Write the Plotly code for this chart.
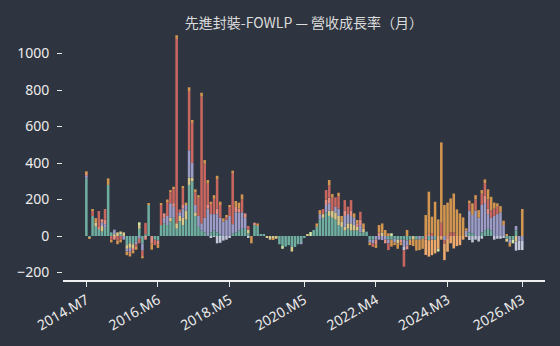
import plotly.graph_objects as go

# month categories 2014.M7 .. 2026.M3
months = []
y, m = 2014, 7
while (y, m) <= (2026, 3):
    months.append(f"{y}.M{m}")
    m += 1
    if m > 12:
        m = 1
        y += 1

tick_labels = ["2014.M7", "2016.M6", "2018.M5", "2020.M5", "2022.M4", "2024.M3", "2026.M3"]

teal = [315,-10,110,55,40,25,45,280,20,0,
        0,15,0,-50,-40,-45,-30,40,-40,10,
        170,0,-20,-25,60,70,60,80,100,40,
        80,60,90,280,300,110,50,30,20,0,
        20,30,20,10,0,0,0,15,20,30,
        40,40,15,0,60,55,11,11,0,0,
        0,0,-45,-55,-58,-50,-60,-60,-45,-35,
        -10,0,0,33,50,90,100,130,110,100,
        90,60,50,30,40,30,30,30,20,20,
        24,-20,-20,0,0,0,0,-20,-20,-15,
        -20,-20,-20,-25,-20,0,-20,0,-15,0,
        -23,0,-20,0,0,0,0,0,0,0,
        0,0,0,20,15,0,0,20,30,40,
        30,0,0,0,0,-15,-18,-20,30,0,
        0]
yellow = [0,0,0,20,0,30,0,0,0,10,
          20,10,20,-20,-25,-25,0,20,0,0,
          0,0,0,0,0,0,0,20,0,30,
          30,40,50,40,20,20,0,0,0,0,
          0,0,0,0,0,0,0,0,0,0,
          0,0,20,0,0,0,0,0,-10,-20,
          -15,-15,0,0,0,0,-25,0,0,0,
          0,11,0,0,0,0,20,0,30,40,
          40,50,30,20,30,40,30,20,0,20,
          0,0,0,0,0,20,0,0,0,0,
          -20,0,0,0,0,-20,0,0,0,0,
          0,0,0,0,0,0,0,0,0,0,
          0,0,0,0,0,0,0,0,0,0,
          0,0,0,0,0,-16,0,0,-30,0,
          0]
lavender = [15,0,0,0,0,20,20,0,0,25,
            0,0,-20,-15,-20,0,-15,-15,-40,0,
            0,0,0,0,0,30,50,80,60,0,
            20,50,30,150,80,40,60,40,80,150,
            100,90,100,90,80,90,110,50,110,100,
            90,60,0,0,0,0,0,0,0,0,
            0,0,0,0,0,0,0,0,0,-10,
            0,0,0,0,0,30,0,40,40,0,
            30,40,0,60,50,40,40,0,40,0,
            0,-15,-20,-20,-20,-22,-20,-20,0,-20,
            0,0,-40,-28,0,0,0,-20,0,0,
            0,-20,0,0,0,-22,0,0,0,0,
            0,0,30,120,100,140,100,150,150,80,
            70,110,120,130,60,0,-20,0,25,-27,
            -27]
grayblue = [0,0,0,0,0,0,0,0,0,0,
            0,0,0,0,0,0,0,0,0,0,
            0,0,0,0,0,0,0,0,0,0,
            0,0,0,0,0,0,0,0,0,0,
            -10,-5,-40,-37,-25,-20,-10,0,0,0,
            0,0,-10,0,0,0,0,0,0,0,
            0,0,0,0,0,0,0,0,0,0,
            0,0,0,0,0,0,0,0,0,0,
            0,0,0,0,0,0,0,0,0,0,
            0,0,0,0,0,0,0,0,0,0,
            0,0,-18,0,0,0,0,0,0,0,
            0,0,0,0,0,0,0,0,0,0,
            0,0,0,-22,-35,-20,-30,-15,0,0,
            0,-20,-15,-15,-10,0,0,0,-50,-50,
            -50]
pink = [15,0,0,0,7,17,25,0,0,-20,
        0,0,0,0,-12,-10,0,0,0,-20,
        0,-40,0,-20,0,24,0,0,20,0,
        0,20,0,0,0,0,0,0,0,20,
        0,0,30,0,0,0,0,0,30,20,
        0,24,0,0,13,0,0,0,0,0,
        0,0,0,0,0,0,0,0,0,0,
        0,0,0,0,0,0,0,30,30,0,
        0,0,0,30,0,30,0,20,30,0,
        0,0,0,-25,20,0,-20,0,0,0,
        0,-15,0,-20,0,0,0,0,0,-20,
        13,0,0,0,0,0,-16,0,0,0,
        0,0,0,0,0,0,0,0,40,30,
        0,0,0,0,0,0,0,0,0,0,
        0]
red = [0,0,30,0,90,0,58,0,-20,0,
       -25,-20,0,0,0,0,-15,-25,-30,62,
       0,0,-30,0,110,0,80,60,80,1010,
       15,90,0,325,220,70,100,695,296,117,
       58,84,160,70,0,15,50,283,0,0,
       70,0,20,0,0,0,0,0,0,0,
       0,0,0,0,0,0,0,0,0,0,
       0,0,0,0,0,0,28,52,67,70,
       52,67,0,57,41,57,0,0,43,0,
       0,0,-20,0,0,0,0,-37,0,0,
       0,0,-90,0,0,0,0,0,0,0,
       0,16,0,0,73,-20,0,20,20,0,
       0,0,0,40,0,60,0,62,70,50,
       40,40,40,0,0,0,0,0,0,0,
       0]
orange = [10,-5,8,23,0,0,0,36,-15,0,
          -20,-15,0,-20,-15,-15,-15,0,-12,0,
          9,-35,0,-20,10,0,10,12,10,20,
          0,14,13,20,16,16,14,20,20,20,
          10,20,20,18,17,10,10,10,32,33,
          28,0,0,-40,0,14,0,0,0,0,
          -5,0,0,0,0,0,0,0,0,0,
          0,0,0,0,19,22,0,0,30,20,
          0,20,30,0,0,0,24,18,0,29,
          0,-15,0,-20,40,49,33,15,-38,-15,
          -30,-15,0,33,-30,-35,-60,-57,-55,115,
          230,90,188,91,440,170,183,186,213,146,
          124,102,12,14,64,24,42,20,20,56,
          75,33,19,34,24,11,-20,0,0,0,
          148]
peach = [0,0,0,0,0,0,0,0,0,0,
         0,0,0,0,0,0,0,0,0,0,
         0,0,0,0,0,0,0,0,0,0,
         0,0,0,0,0,0,0,0,0,0,
         0,0,0,0,0,0,0,0,0,0,
         0,0,0,0,0,0,0,0,0,0,
         0,0,0,0,0,0,0,0,0,0,
         0,0,0,0,0,0,0,0,0,0,
         0,0,0,0,0,0,0,0,0,0,
         0,0,0,0,0,0,0,0,0,0,
         0,0,0,0,0,0,0,0,0,-84,
         -90,-85,-75,-70,-20,-90,-70,-40,-68,-55,
         -50,-20,-5,0,0,0,0,0,0,0,
         0,0,0,0,0,0,0,0,0,0,
         0]
green = [0,0,0,0,0,0,0,0,0,0,
         0,0,0,0,0,0,0,15,0,0,
         0,0,0,0,0,0,0,0,0,0,
         0,0,0,0,0,0,0,0,0,0,
         0,0,0,0,0,0,0,0,0,0,
         0,0,0,0,0,0,0,0,0,0,
         0,0,0,-15,0,0,0,0,0,0,
         0,0,22,0,0,0,0,0,0,0,
         0,0,0,0,0,0,0,0,0,0,
         0,0,0,0,0,0,0,0,15,0,
         0,0,0,0,0,0,0,0,0,0,
         0,0,0,-15,0,0,0,0,0,0,
         0,0,0,0,0,0,0,0,0,0,
         0,0,0,0,0,0,0,-20,0,0,
         0]

series = [
    ("teal", teal, "#6fae9f"),
    ("yellow", yellow, "#d9c88c"),
    ("lavender", lavender, "#9c9cc6"),
    ("grayblue", grayblue, "#c3c7da"),
    ("pink", pink, "#e38f86"),
    ("red", red, "#c8675f"),
    ("orange", orange, "#d39650"),
    ("peach", peach, "#eeaa6c"),
    ("green", green, "#d3e6a8"),
]

bg = "#2f3540"
fig = go.Figure()
for name, vals, col in series:
    assert len(vals) == len(months), (name, len(vals))
    fig.add_trace(go.Bar(x=months, y=vals, name=name, marker_color=col,
                         marker_line_width=0, hoverinfo="x+y"))

fig.update_layout(
    barmode="relative", bargap=0.18,
    width=560, height=346,
    paper_bgcolor=bg, plot_bgcolor=bg,
    margin=dict(l=63, r=15, t=30, b=66),
    showlegend=False,
    font=dict(family="Noto Sans, Noto Sans CJK TC, sans-serif", size=14, color="#ececec"),
    title=dict(text="先進封裝-FOWLP — 營收成長率（月）", x=0.5, xref="paper",
               xanchor="center", y=1 - 23 / 346, yref="container", yanchor="middle",
               font=dict(size=14, color="#dcdcdc",
                         family="Noto Sans CJK TC, Noto Sans, sans-serif")),
    xaxis=dict(type="category", categoryorder="array", categoryarray=months,
               range=[-7.5, len(months) - 1 + 7.3],
               tickmode="array", tickvals=tick_labels, ticktext=tick_labels,
               tickangle=-30, ticks="outside", ticklen=5, tickcolor="#e6e6e6",
               automargin=False,
               showline=True, linecolor="#f0f0f0", linewidth=1.5,
               showgrid=False, zeroline=False),
    yaxis=dict(range=[-241, 1129], dtick=200, tick0=0,
               ticks="outside", ticklen=5, tickcolor="#e6e6e6",
               ticklabelstandoff=5, automargin=False,
               showline=False, showgrid=False, zeroline=False),
)

fig.write_html("out.html")
